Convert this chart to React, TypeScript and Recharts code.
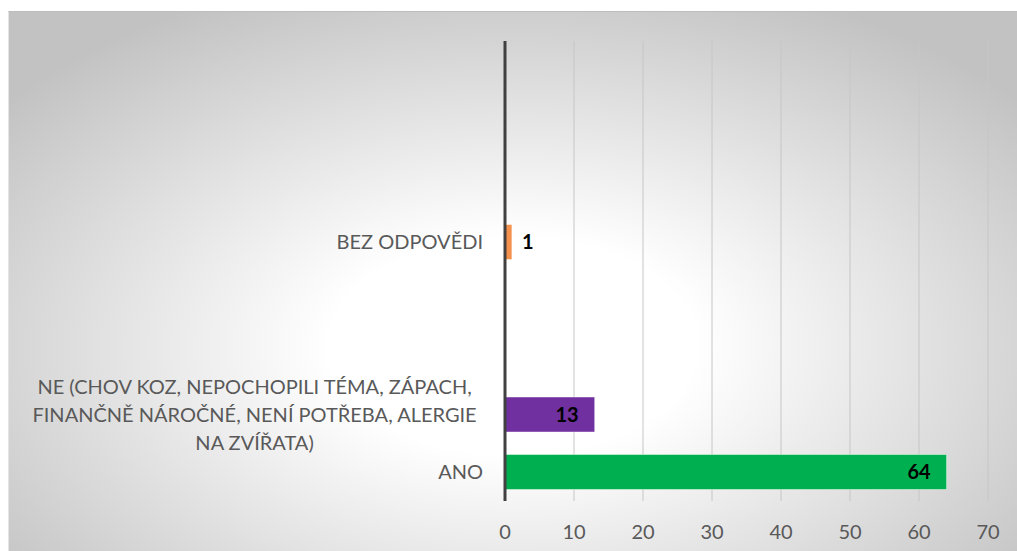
import { BarChart, Bar, XAxis, YAxis, CartesianGrid, Cell, LabelList } from "recharts";

// Excel order: first category sits at the bottom of the chart
const categories = [
  "ANO",
  "NE (CHOV KOZ, NEPOCHOPILI TÉMA, ZÁPACH, FINANČNĚ NÁROČNÉ, NENÍ POTŘEBA, ALERGIE NA ZVÍŘATA)",
  "",
  "",
  "BEZ ODPOVĚDI",
  "",
  "",
  "",
];
const counts: (number | null)[] = [64, 13, null, null, 1, null, null, null];
const barColors = ["#00B050", "#7030A0", "#F4914D", "#F4914D", "#F4914D", "#F4914D", "#F4914D", "#F4914D"];
const xTicks = [0, 10, 20, 30, 40, 50, 60, 70];

const data = categories.map((name, i) => ({ name, value: counts[i] }));

const FONT = "Lato, 'Open Sans', sans-serif";
const LABEL_SIZE = 20;
const LINE_HEIGHT = 28;
const MAX_LABEL_WIDTH = 470;

let ctx: CanvasRenderingContext2D | null = null;
function measure(text: string) {
  if (!ctx) ctx = document.createElement("canvas").getContext("2d");
  if (!ctx) return text.length * LABEL_SIZE * 0.55;
  ctx.font = `${LABEL_SIZE}px Lato`;
  return ctx.measureText(text).width;
}

function wrap(text: string) {
  const words = text.split(" ");
  const lines: string[] = [];
  let cur = "";
  for (const w of words) {
    const next = cur ? cur + " " + w : w;
    if (cur && measure(next) > MAX_LABEL_WIDTH) {
      lines.push(cur);
      cur = w;
    } else {
      cur = next;
    }
  }
  if (cur) lines.push(cur);
  return lines;
}

function CategoryTick(props: any) {
  const { x, y, payload } = props;
  const text: string = payload?.value ?? "";
  if (!text) return null;
  const lines = wrap(text);
  const right = x - 22;
  if (lines.length === 1) {
    return (
      <text x={right} y={y} dy="0.35em" textAnchor="end" fill="#595959" fontSize={LABEL_SIZE} fontFamily={FONT}>
        {text}
      </text>
    );
  }
  const widest = Math.max(...lines.map(measure));
  const cx = right - widest / 2 - 6;
  const top = y - ((lines.length - 1) * LINE_HEIGHT) / 2;
  return (
    <text textAnchor="middle" fill="#595959" fontSize={LABEL_SIZE} fontFamily={FONT}>
      {lines.map((l, i) => (
        <tspan key={i} x={cx} y={top + i * LINE_HEIGHT} dy="0.35em">
          {l}
        </tspan>
      ))}
    </text>
  );
}

function ValueLabel(props: any) {
  const { x, y, width, height, value } = props;
  if (value === null || value === undefined) return null;
  const inside = value >= 5;
  const lx = inside ? x + width - 16 : x + width + 10;
  return (
    <text
      x={lx}
      y={y + height / 2}
      dy="0.35em"
      textAnchor={inside ? "end" : "start"}
      fill="#000000"
      fontSize={20}
      fontWeight="bold"
      fontFamily={FONT}
    >
      {value}
    </text>
  );
}

export default function App() {
  return (
    <div
      style={{
        position: "absolute",
        left: 8,
        top: 11,
        width: 1009,
        height: 540,
        boxSizing: "border-box",
        borderTop: "1px solid #bdbdbd",
        borderLeft: "1px solid #e4e4e4",
        background: "radial-gradient(ellipse 65% 72% at 50% 62%, #ffffff 0%, #ffffff 28%, #c2c2c2 100%)",
      }}
    >
      <BarChart
        width={1009}
        height={540}
        data={data}
        layout="vertical"
        margin={{ top: 30, right: 29, bottom: 0, left: 0 }}
        barSize={35}
        style={{ position: "absolute", left: -1, top: -1 }}
      >
        <CartesianGrid horizontal={false} stroke="#c6c6c6" />
        <XAxis
          type="number"
          domain={[0, 70]}
          ticks={xTicks}
          axisLine={false}
          tickLine={false}
          tickMargin={18}
          height={50}
          tick={{ fill: "#595959", fontSize: 20, fontFamily: FONT }}
        />
        <YAxis
          type="category"
          dataKey="name"
          reversed
          width={497}
          tickSize={0}
          tickMargin={0}
          tickLine={false}
          axisLine={{ stroke: "#404040", strokeWidth: 3 }}
          tick={<CategoryTick />}
          interval={0}
        />
        <Bar dataKey="value" isAnimationActive={false} stroke="#ffffff" strokeOpacity={0.45} strokeWidth={1}>
          {data.map((_, i) => (
            <Cell key={i} fill={barColors[i]} />
          ))}
          <LabelList dataKey="value" content={<ValueLabel />} />
        </Bar>
      </BarChart>
    </div>
  );
}
